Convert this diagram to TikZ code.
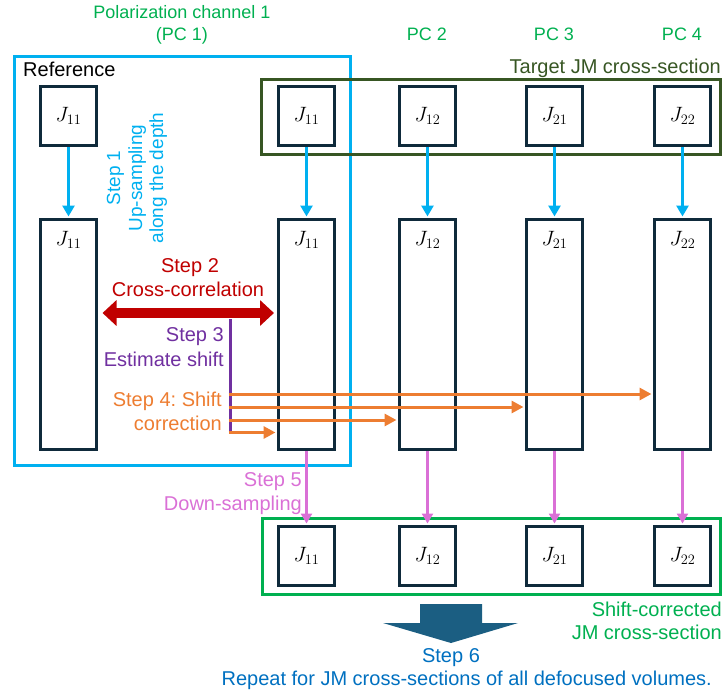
\documentclass[tikz,border=0pt]{standalone}
\usepackage{fontspec}
\setmainfont{Liberation Sans}
\usetikzlibrary{arrows.meta}
\frenchspacing
\definecolor{boxc}{HTML}{0F2A3B}
\definecolor{skyc}{HTML}{00B0F0}
\definecolor{redc}{HTML}{C00000}
\definecolor{purc}{HTML}{7030A0}
\definecolor{oraC}{HTML}{ED7D31}
\definecolor{pinkc}{RGB}{218,112,214}
\definecolor{grnc}{HTML}{00B050}
\definecolor{dgrnc}{HTML}{375623}
\definecolor{bluet}{HTML}{0070C0}
\definecolor{tealc}{HTML}{1B5E82}
\begin{document}
\begin{tikzpicture}[x=1pt,y=-1pt,
  jbox/.style={draw=boxc,line width=3pt,fill=white,minimum width=56pt,minimum height=59pt,inner sep=0pt},
  tallbox/.style={draw=boxc,line width=3pt,fill=white,minimum width=56pt,minimum height=230pt,inner sep=0pt},
  jlab/.style={inner sep=0pt,font=\fontsize{20.74}{24}\selectfont},
  tx/.style={inner sep=0pt,font=\fontsize{20}{24}\selectfont},
  txs/.style={inner sep=0pt,font=\fontsize{18}{22}\selectfont},
  txr/.style={inner sep=0pt,font=\fontsize{19}{22}\selectfont},
  bluearr/.style={draw=skyc,line width=3pt,-{Triangle[length=11pt,width=12pt]}},
  pinkarr/.style={draw=pinkc,line width=3pt,-{Triangle[length=10pt,width=11pt]}},
  orarr/.style={draw=oraC,line width=3pt,-{Triangle[length=12pt,width=12pt]}},
  redarr/.style={draw=redc,line width=10pt,{Triangle[length=14pt,width=25pt]}-{Triangle[length=14pt,width=25pt]}},
]
\useasboundingbox (0,0) rectangle (724,694);

% frames
\draw[skyc,line width=3pt] (14.5,56.5) rectangle (350.5,465.5);
\draw[dgrnc,line width=3pt] (261.5,79.5) rectangle (720.5,154.5);
\draw[grnc,line width=3pt] (262.5,518.5) rectangle (720.5,594.5);

% top boxes
\node[jbox] (s0) at (68.5,116) {};
\node[jbox] (s1) at (306.5,116) {};
\node[jbox] (s2) at (427.5,116) {};
\node[jbox] (s3) at (554.5,116) {};
\node[jbox] (s4) at (682.5,116) {};
\node[jlab] (ls0) at (68.5,116) {$J_{11}$};
\node[jlab] (ls1) at (306.5,116) {$J_{11}$};
\node[jlab] (ls2) at (427.5,116) {$J_{12}$};
\node[jlab] (ls3) at (554.5,116) {$J_{21}$};
\node[jlab] (ls4) at (682.5,116) {$J_{22}$};

% tall boxes
\node[tallbox] (t0) at (68.5,334.5) {};
\node[tallbox] (t1) at (306.5,334.5) {};
\node[tallbox] (t2) at (427.5,334.5) {};
\node[tallbox] (t3) at (554.5,334.5) {};
\node[tallbox] (t4) at (682.5,334.5) {};
\node[jlab] (lt0) at (68.5,240) {$J_{11}$};
\node[jlab] (lt1) at (306.5,240) {$J_{11}$};
\node[jlab] (lt2) at (427.5,240) {$J_{12}$};
\node[jlab] (lt3) at (554.5,240) {$J_{21}$};
\node[jlab] (lt4) at (682.5,240) {$J_{22}$};

% bottom boxes
\node[jbox] (b1) at (306.5,556) {};
\node[jbox] (b2) at (427.5,556) {};
\node[jbox] (b3) at (554.5,556) {};
\node[jbox] (b4) at (682.5,556) {};
\node[jlab] (lb1) at (306.5,556) {$J_{11}$};
\node[jlab] (lb2) at (427.5,556) {$J_{12}$};
\node[jlab] (lb3) at (554.5,556) {$J_{21}$};
\node[jlab] (lb4) at (682.5,556) {$J_{22}$};

% step 1 arrows
\foreach \i in {0,...,4} {\draw[bluearr] (s\i.south) -- ([yshift=1.5pt]t\i.north);}
% step 5 arrows
\foreach \i in {1,...,4} {\draw[pinkarr] (t\i.south) -- ([yshift=1.5pt]b\i.north);}

% step 2 red double arrow
\coordinate (c2) at (0,313);
\draw[redarr] ([xshift=4.5pt]t0.east |- c2) -- ([xshift=-3pt]t1.west |- c2);

% step 3 purple line
\coordinate (p3a) at (230,319);
\coordinate (p3b) at (230,434);
\draw[purc,line width=3pt] (p3a) -- (p3b);

% step 4 orange arrows
\coordinate (o4) at (228.5,394);
\coordinate (o3) at (228.5,407);
\coordinate (o2) at (228.5,420);
\coordinate (o1) at (228.5,432.5);
\draw[orarr] (o4) -- ([xshift=-1.5pt]t4.west |- o4);
\draw[orarr] (o3) -- ([xshift=-1.5pt]t3.west |- o3);
\draw[orarr] (o2) -- ([xshift=-1.5pt]t2.west |- o2);
\draw[orarr] (o1) -- ([xshift=-1.5pt]t1.west |- o1);

% step 6 big arrow
\fill[tealc] (420,604) -- (482,604) -- (482,623) -- (518,623) -- (451,643) -- (383,623) -- (420,623) -- cycle;

% texts
\node[txs,text=grnc,anchor=base] (pc1a) at (182,18) {Polarization channel 1};
\node[txs,text=grnc,anchor=base] (pc1b) at (182,40) {(PC 1)};
\node[txs,text=grnc,anchor=base] (pc2) at (427,40) {PC 2};
\node[txs,text=grnc,anchor=base] (pc3) at (554,40) {PC 3};
\node[txs,text=grnc,anchor=base] (pc4) at (682,40) {PC 4};
\node[tx,anchor=base west] (ref) at (23,76) {Reference};
\node[tx,text=dgrnc,anchor=base east] (tgt) at (721,73) {Target JM cross-section};

\node[txr,text=skyc,anchor=base,rotate=90] (st1a) at (120,178) {Step 1};
\node[txr,text=skyc,anchor=base,rotate=90] (st1b) at (142,178) {Up-sampling};
\node[txr,text=skyc,anchor=base,rotate=90] (st1c) at (163,178) {along the depth};

\node[tx,text=redc,anchor=base] (st2a) at (190,272) {Step 2};
\node[tx,text=redc,anchor=base] (st2b) at (188,296) {Cross-correlation};

\node[tx,text=purc,anchor=base east] (st3a) at (224,341) {Step 3};
\node[tx,text=purc,anchor=base east] (st3b) at (224,366) {Estimate shift};

\node[tx,text=oraC,anchor=base east] (st4a) at (222,406) {Step 4: Shift};
\node[tx,text=oraC,anchor=base east] (st4b) at (222,430) {correction};

\node[tx,text=pinkc,anchor=base east] (st5a) at (302,486) {Step 5};
\node[tx,text=pinkc,anchor=base east] (st5b) at (302,510) {Down-sampling};

\node[tx,text=grnc,anchor=base east] (sca) at (722,616) {Shift-corrected};
\node[tx,text=grnc,anchor=base east] (scb) at (722,639) {JM cross-section};

\node[tx,text=bluet,anchor=base] (st6a) at (451,662) {Step 6};
\node[tx,text=bluet,anchor=base east] (st6b) at (712,685) {Repeat for JM cross-sections of all defocused volumes.};
\end{tikzpicture}
\end{document}
